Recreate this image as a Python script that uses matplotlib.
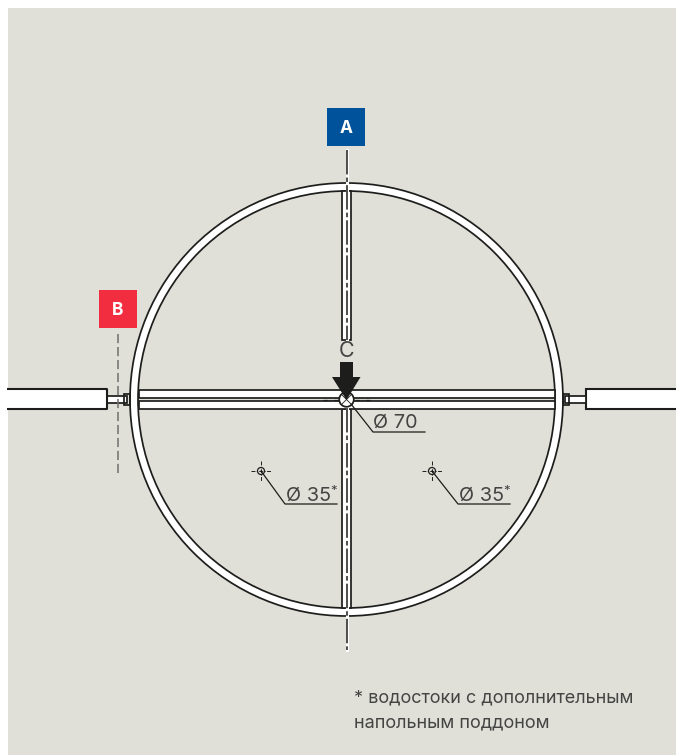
import matplotlib
matplotlib.use('Agg')
import matplotlib.pyplot as plt
from matplotlib.patches import Circle, Rectangle, Polygon

# drawing is laid out in reference pixels
center = (346.5, 399.5)
ring_r = [216.5, 208.5]
markers = ['A', 'B']
marker_colors = ['#00529b', '#f22d3f']
marker_xy = [(327, 108), (99, 290)]
main_hole = 'Ø 70'
side_holes = ['Ø 35', 'Ø 35']
side_x = [261, 432]
side_y = 471
leader_end = [(285, 504), (458, 504)]
note = ['* водостоки с дополнительным', 'напольным поддоном']
note_y = [698, 723]

plt.rcParams['font.family'] = ['Inter', 'DejaVu Sans']
ink = '#1d1d1b'
txt = '#444443'
bg = '#e0e0d9'
lw = 1.25

fig = plt.figure(figsize=(6.76, 7.55), dpi=100, facecolor='white')
ax = fig.add_axes([0, 0, 1, 1])
ax.set_xlim(0, 676)
ax.set_ylim(755, 0)
ax.axis('off')

ax.add_patch(Rectangle((8, 8), 668, 747, fc=bg, ec='none', zorder=0))

cx, cy = center

# ring
ax.add_patch(Circle(center, ring_r[0], fc='white', ec=ink, lw=lw, zorder=1))
ax.add_patch(Circle(center, ring_r[1], fc=bg, ec=ink, lw=lw, zorder=2))

# channels inside the ring
ax.add_patch(Rectangle((cx - 4.8, cy - ring_r[1]), 9.6, 149, fc='white', ec=ink, lw=lw, zorder=3))
ax.add_patch(Rectangle((cx - 4.8, cy + 9), 9.6, ring_r[1] - 9, fc='white', ec=ink, lw=lw, zorder=3))
ax.add_patch(Rectangle((cx - ring_r[1] + 0.5, cy - 9.5), 2 * ring_r[1] - 1, 7.5, fc='white', ec=ink, lw=lw, zorder=4))
ax.add_patch(Rectangle((cx - ring_r[1] + 0.5, cy + 1.5), 2 * ring_r[1] - 1, 7.5, fc='white', ec=ink, lw=lw, zorder=4))

# pipes left and right, running off the page
ax.add_patch(Rectangle((7, cy - 10.5), 99.5, 20, fc='white', ec='none', zorder=3))
ax.plot([7, 106.5, 106.5, 7], [cy - 10.5, cy - 10.5, cy + 9.5, cy + 9.5], color=ink, lw=1.5,
        solid_capstyle='butt', zorder=3.5)
ax.add_patch(Rectangle((586, cy - 10.5), 95, 20, fc='white', ec=ink, lw=1.5, zorder=3))
ax.add_patch(Rectangle((107, cy - 3.5), 20, 6.5, fc='white', ec=ink, lw=lw, zorder=3))
ax.add_patch(Rectangle((565, cy - 3.5), 21, 6.5, fc='white', ec=ink, lw=lw, zorder=3))
ax.add_patch(Rectangle((124, cy - 6), 6, 11, fc='none', ec=ink, lw=lw, zorder=3))
ax.add_patch(Rectangle((563, cy - 6), 6, 11, fc='none', ec=ink, lw=lw, zorder=3))

# marker boxes
for m, col, xy in zip(markers, marker_colors, marker_xy):
    ax.add_patch(Rectangle(xy, 38, 38, fc=col, ec='none', zorder=6))
    ax.text(xy[0] + 19, xy[1] + 20.5, m, color='white', fontsize=12.5, fontweight='bold',
            ha='center', va='center', zorder=7)

# section lines
for y0, y1 in [(150, 340), (408, 650)]:
    ax.plot([cx, cx], [y0, y1], color='white', lw=2.2, zorder=4.5)
    ax.plot([cx, cx], [y0, y1], color=ink, lw=1.1, ls=(0, (16, 2, 3, 2)), zorder=5)
ax.plot([117.5, 117.5], [334, 476], color='#6f6f6c', lw=1.1, ls=(0, (6, 2.5)), zorder=5)

# middle of the horizontal channel
ax.plot([323, 338], [cy, cy], color=ink, lw=0.9, ls=(0, (4, 1.5, 1, 1.5)), zorder=5)
ax.plot([355, 371], [cy, cy], color=ink, lw=0.9, ls=(0, (4, 1.5, 1, 1.5)), zorder=5)

# main drain
ax.add_patch(Circle(center, 7.3, fc='white', ec=ink, lw=lw, zorder=6))
ax.plot([cx - 5, cx + 5], [cy - 5, cy + 5], color=ink, lw=0.6, zorder=6)
ax.plot([cx - 5, cx + 5], [cy + 5, cy - 5], color=ink, lw=0.6, zorder=6)
ax.add_patch(Polygon([(340, 362), (353, 362), (353, 377), (360.5, 377), (cx, 400),
                      (332, 377), (340, 377)], fc=ink, ec='none', zorder=7))
ax.text(cx, 351, 'C', color=txt, fontsize=15.5, ha='center', va='center', zorder=7)

ax.plot([351, 373, 425], [404, 432, 432], color=ink, lw=0.9, zorder=6)
ax.text(373, 423, main_hole, color=txt, fontsize=14.3, ha='left', va='center', zorder=7)

# side drains
for x, lab, end in zip(side_x, side_holes, leader_end):
    ax.add_patch(Circle((x, side_y), 3.5, fc='none', ec=ink, lw=0.9, zorder=5))
    ax.plot([x - 10, x + 10], [side_y, side_y], color=ink, lw=0.7, ls=(0, (4, 1.5, 1, 1.5)), zorder=5)
    ax.plot([x, x], [side_y - 10, side_y + 10], color=ink, lw=0.7, ls=(0, (4, 1.5, 1, 1.5)), zorder=5)
    ax.plot([x, end[0], end[0] + 52], [side_y, end[1], end[1]], color=ink, lw=0.9, zorder=5)
    ax.text(end[0] + 1, 496, lab, color=txt, fontsize=14.3, ha='left', va='center', zorder=7)
    ax.text(end[0] + 45, 491.5, '*', color=txt, fontsize=9.5, ha='left', va='center', zorder=7)

# footnote
for line, y in zip(note, note_y):
    ax.text(354, y, line, color=txt, fontsize=13, ha='left', va='center', zorder=7)

fig.savefig('out.png', dpi=100)
